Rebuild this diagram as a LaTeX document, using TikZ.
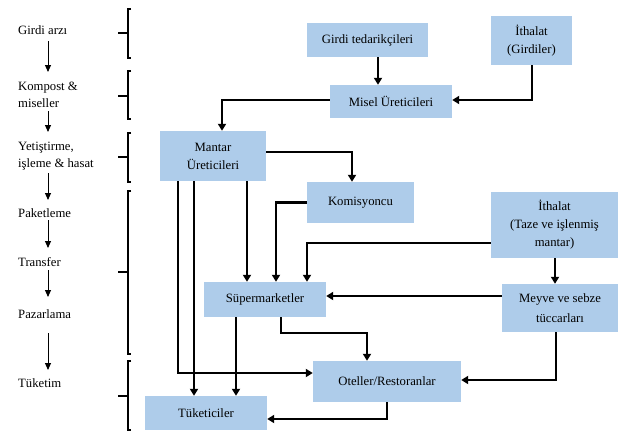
\documentclass[tikz,border=0pt]{standalone}
\usepackage{fontspec}
\setmainfont{Liberation Serif}
\usetikzlibrary{arrows.meta}
\definecolor{boxblue}{RGB}{174,204,234}
\begin{document}
\begin{tikzpicture}[x=1pt,y=-1pt,
  box/.style={fill=boxblue,draw=none,inner sep=0pt,align=center,font=\fontsize{12.7}{18}\selectfont},
  conn/.style={line width=2.4pt,-{Triangle[width=8pt,length=7pt]}},
  lab/.style={anchor=base west,inner sep=0pt,align=left,font=\fontsize{12.7}{16.5}\selectfont},
  stage/.style={line width=0.9pt,-{Triangle[width=6pt,length=7pt]}},
  brk/.style={line width=1.3pt}]
\useasboundingbox (0,0) rectangle (621,431);

% boxes
\node[box,minimum width=121pt,minimum height=34pt] (gt) at (367.5,40) {Girdi tedarikçileri};
\node[box,minimum width=81pt,minimum height=49pt] (ig) at (531.5,40.5) {İthalat\\(Girdiler)};
\node[box,minimum width=122pt,minimum height=33pt] (ms) at (391,101.5) {Misel Üreticileri};
\node[box,minimum width=106pt,minimum height=50pt] (mu) at (213,156) {Mantar\\Üreticileri};
\node[box,minimum width=107pt,minimum height=41pt] (ko) at (360.5,202.5) {Komisyoncu};
\node[box,minimum width=127pt,minimum height=66pt] (it) at (554.5,225) {İthalat\\(Taze ve işlenmiş\\mantar)};
\node[box,minimum width=116pt,minimum height=48pt,font=\fontsize{12.7}{20}\selectfont] (mt) at (560,308) {Meyve ve sebze\\tüccarları};
\node[box,minimum width=122pt,minimum height=35pt] (sm) at (265,299.5) {Süpermarketler};
\node[box,minimum width=148pt,minimum height=41pt] (ot) at (387,381.5) {Oteller/Restoranlar};
\node[box,minimum width=122pt,minimum height=34pt] (tk) at (206,413) {Tüketiciler};

% left stage labels (base anchor = baseline of last line)
\node[lab] (l1) at (18,34) {Girdi arzı};
\node[lab] (l2) at (18,107) {Kompost \&\\miseller};
\node[lab] (l3) at (18,167) {Yetiştirme,\\işleme \& hasat};
\node[lab] (l4) at (18,217) {Paketleme};
\node[lab] (l5) at (18,266) {Transfer};
\node[lab] (l6) at (18,318) {Pazarlama};
\node[lab] (l7) at (18,387) {Tüketim};

% stage arrows
\draw[stage] (48,41) -- (48,72);
\draw[stage] (48,111) -- (48,132);
\draw[stage] (48,173) -- (48,200);
\draw[stage] (48,220) -- (48,248);
\draw[stage] (48,270) -- (48,297);
\draw[stage] (48,333) -- (48,370);

% brackets
\draw[brk] (131,9) -- (128,9) -- (128,58) -- (131,58);
\draw[brk] (118,33) -- (128,33);
\draw[brk] (131,71) -- (128,71) -- (128,119) -- (131,119);
\draw[brk] (118,96) -- (128,96);
\draw[brk] (131,133) -- (128,133) -- (128,182) -- (131,182);
\draw[brk] (118,157) -- (128,157);
\draw[brk] (131,191) -- (128,191) -- (128,354) -- (131,354);
\draw[brk] (118,272) -- (128,272);
\draw[brk] (131,361) -- (128,361) -- (128,430) -- (131,430);
\draw[brk] (118,396) -- (128,396);

% connectors
\draw[conn] ([xshift=10.5pt]gt.south) -- ([xshift=10.5pt]gt.south |- ms.north);
\draw[conn] ([xshift=0.5pt]ig.south) |- ([yshift=1.5pt]ms.east);
\draw[conn] ([yshift=1.5pt]ms.west) -| ([xshift=9pt]mu.north);
\draw[conn] ([yshift=4pt]mu.east) -| ([xshift=-8.5pt]ko.north);
\draw[conn] (ko.west) -| ([xshift=11pt]sm.north);
\draw[conn] ([yshift=-18pt]it.west) -| ([xshift=42pt]sm.north);
\draw[conn] ([xshift=34pt]mu.south) -- ([xshift=34pt]mu.south |- sm.north);
\draw[conn] ([xshift=-35pt]mu.south) |- ([yshift=8.5pt]ot.west);
\draw[conn] ([xshift=-19pt]mu.south) -- ([xshift=-19pt]mu.south |- tk.north);
\draw[conn] ([xshift=-29pt]sm.south) -- ([xshift=-29pt]sm.south |- tk.north);
\draw[conn] ([xshift=16pt]sm.south) -- ++(0,16) -| ([xshift=-20pt]ot.north);
\draw[conn] ([xshift=0.5pt]it.south) -- ([xshift=0.5pt]it.south |- mt.north);
\draw[conn] ([yshift=12pt]mt.west) -- ([yshift=12pt]mt.west -| sm.east);
\draw[conn] ([xshift=-4pt]mt.south) |- ([yshift=1.5pt]ot.east);
\draw[conn] (ot.south) |- ([yshift=-6pt]tk.east);
\end{tikzpicture}
\end{document}
